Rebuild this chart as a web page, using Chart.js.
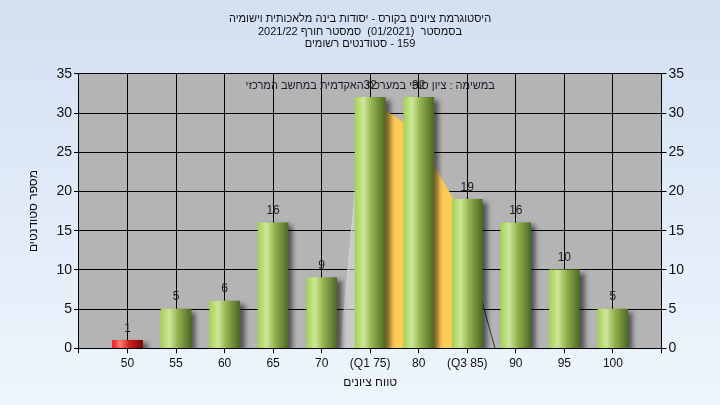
<!DOCTYPE html>
<html lang="he">
<head>
<meta charset="UTF-8">
<title>היסטוגרמת ציונים</title>
<script src="https://cdn.jsdelivr.net/npm/chart.js"></script>
<style>
    html, body {
        margin: 0;
        padding: 0;
        width: 720px;
        height: 405px;
        overflow: hidden;
        background: linear-gradient(to bottom, #d3e0f2 0%, #eef5fd 100%);
    }
    .wrap {
        width: 720px;
        height: 405px;
    }
</style>
</head>
<body>
<div class="wrap"><canvas id="histChart"></canvas></div>
<script>
// נתוני ההיסטוגרמה
const grades = ['50', '55', '60', '65', '70', '(Q1 75)', '80', '(Q3 85)', '90', '95', '100'];
const counts = [1, 5, 6, 16, 9, 32, 32, 19, 16, 10, 5];
const failIndex = 0;   // העמודה האדומה

// עקומת ההתפלגות (מיקום בעמודות, ערך)
const curveLeftX = [5.29, 5.85, 6];
const curveLeftY = [0, 32.2, 31.6];
const curveMidX = [6, 7, 8];
const curveMidY = [31.6, 28.1, 19];
const curveRightX = [8, 9];
const curveRightY = [19, 0];

const yTicks = [0, 5, 10, 15, 20, 25, 30, 35];

const titleLines = [
    'היסטוגרמת ציונים בקורס - יסודות בינה מלאכותית וישומיה',
    '\u202Bבסמסטר  (01/2021)  סמסטר חורף 2021/22\u202C',
    '\u202B159 - סטודנטים רשומים\u202C'
];
const noteText = '\u202Bבמשימה : ציון סופי במערכת האקדמית במחשב המרכזי\u202C';
const yTitle = 'מספר סטודנטים';
const xTitle = 'טווח ציונים';

const FONT = "'Liberation Sans', 'DejaVu Sans', Arial, sans-serif";

// תוויות עם עמודה ריקה בכל קצה
const labels = [''].concat(grades, ['']);
const barData = [null].concat(counts, [null]);
const toPts = (xs, ys) => xs.map((x, i) => ({ x: x, y: ys[i] }));

function barGradient(ctx) {
    if (ctx.type !== 'data') return '#9c4';
    const chart = ctx.chart;
    const xs = chart.scales.x;
    if (!xs || !chart.chartArea) return '#9c4';
    const cx = xs.getPixelForValue(ctx.dataIndex);
    const g = chart.ctx.createLinearGradient(cx - 15, 0, cx + 15, 0);
    if (ctx.dataIndex === failIndex + 1) {
        g.addColorStop(0, '#f01818');
        g.addColorStop(0.25, '#ff7a7a');
        g.addColorStop(0.55, '#d02020');
        g.addColorStop(1, '#7a0808');
    } else {
        g.addColorStop(0, '#a6d254');
        g.addColorStop(0.28, '#cde79a');
        g.addColorStop(0.55, '#94b450');
        g.addColorStop(1, '#4d6a24');
    }
    return g;
}

// רקע אפור לאזור השרטוט
const plotBg = {
    id: 'plotBg',
    beforeDraw(chart) {
        const a = chart.chartArea;
        const c = chart.ctx;
        c.save();
        c.fillStyle = '#b4b4b4';
        c.fillRect(a.left, a.top, a.right - a.left, a.bottom - a.top);
        c.restore();
    }
};

// צל לעמודות
const barShadow = {
    id: 'barShadow',
    beforeDatasetDraw(chart, args) {
        if (args.meta.type !== 'bar') return;
        const c = chart.ctx;
        c.save();
        c.shadowColor = 'rgba(0,0,0,0.55)';
        c.shadowBlur = 5;
        c.shadowOffsetX = 5;
        c.shadowOffsetY = 3;
    },
    afterDatasetDraw(chart, args) {
        if (args.meta.type !== 'bar') return;
        chart.ctx.restore();
    }
};

// טקסט ההערה ותוויות הערכים
const labelsPlugin = {
    id: 'valueLabels',
    afterDatasetsDraw(chart) {
        const c = chart.ctx;
        const a = chart.chartArea;
        c.save();
        c.font = '11px ' + FONT;
        c.fillStyle = '#1a1a2a';
        c.textAlign = 'center';
        c.textBaseline = 'middle';
        c.fillText(noteText, (a.left + a.right) / 2, a.top + 12);

        const meta = chart.getDatasetMeta(0);
        c.font = '12px ' + FONT;
        c.fillStyle = '#222';
        meta.data.forEach((bar, i) => {
            const v = barData[i];
            if (v == null) return;
            c.fillText(String(v), bar.x, bar.y - 12);
        });
        c.restore();
    }
};

new Chart(document.getElementById('histChart'), {
    type: 'bar',
    data: {
        labels: labels,
        datasets: [
            {
                type: 'bar',
                data: barData,
                backgroundColor: barGradient,
                borderWidth: 0,
                barThickness: 30,
                grouped: false,
                order: 0,
                xAxisID: 'x',
                yAxisID: 'y'
            },
            {
                type: 'line',
                data: toPts(curveLeftX, curveLeftY),
                xAxisID: 'xc',
                yAxisID: 'y',
                borderColor: '#d0d0d0',
                borderWidth: 1,
                backgroundColor: 'rgba(220,220,220,0.55)',
                fill: 'origin',
                pointRadius: 0,
                tension: 0,
                order: 1
            },
            {
                type: 'line',
                data: toPts(curveMidX, curveMidY),
                xAxisID: 'xc',
                yAxisID: 'y',
                borderColor: '#f5c050',
                borderWidth: 1,
                backgroundColor: '#ffcc55',
                fill: 'origin',
                pointRadius: 0,
                tension: 0,
                order: 1
            },
            {
                type: 'line',
                data: toPts(curveRightX, curveRightY),
                xAxisID: 'xc',
                yAxisID: 'y',
                borderColor: '#333',
                borderWidth: 1,
                fill: false,
                pointRadius: 0,
                tension: 0,
                order: 1
            }
        ]
    },
    options: {
        responsive: true,
        maintainAspectRatio: false,
        animation: false,
        layout: {
            padding: { left: 12, right: 12, top: 5, bottom: 13 }
        },
        plugins: {
            legend: { display: false },
            tooltip: { enabled: false },
            title: {
                display: true,
                text: titleLines,
                color: '#111',
                font: { family: FONT, size: 11, weight: 'normal', lineHeight: 1.18 },
                padding: { top: 7, bottom: 23 }
            }
        },
        scales: {
            x: {
                type: 'category',
                offset: false,
                grid: {
                    offset: false,
                    color: '#000',
                    lineWidth: 1,
                    tickLength: 5,
                    tickColor: '#000'
                },
                border: { color: '#000', width: 1 },
                ticks: {
                    color: '#111',
                    font: { family: FONT, size: 12 },
                    padding: 3,
                    maxRotation: 0,
                    autoSkip: false
                },
                title: {
                    display: true,
                    text: xTitle,
                    color: '#111',
                    font: { family: FONT, size: 12 },
                    padding: { top: 2, bottom: 2 }
                }
            },
            xc: {
                type: 'linear',
                display: false,
                min: 0,
                max: labels.length - 1
            },
            y: {
                position: 'left',
                min: 0,
                max: 35,
                afterBuildTicks(s) { s.ticks = yTicks.map(v => ({ value: v })); },
                grid: {
                    color: '#000',
                    lineWidth: 1,
                    tickLength: 5,
                    tickColor: '#000'
                },
                border: { color: '#000', width: 1 },
                ticks: {
                    color: '#111',
                    font: { family: FONT, size: 14 },
                    padding: 2
                },
                title: {
                    display: true,
                    text: yTitle,
                    color: '#111',
                    font: { family: FONT, size: 12 },
                    padding: { top: 14, bottom: 14 }
                }
            },
            y2: {
                position: 'right',
                min: 0,
                max: 35,
                afterBuildTicks(s) { s.ticks = yTicks.map(v => ({ value: v })); },
                afterFit(s) { s.width += 22; },
                grid: {
                    drawOnChartArea: false,
                    tickLength: 5,
                    tickColor: '#000'
                },
                border: { color: '#000', width: 1 },
                ticks: {
                    color: '#111',
                    font: { family: FONT, size: 14 },
                    padding: 2
                }
            }
        }
    },
    plugins: [plotBg, barShadow, labelsPlugin]
});
</script>
</body>
</html>
